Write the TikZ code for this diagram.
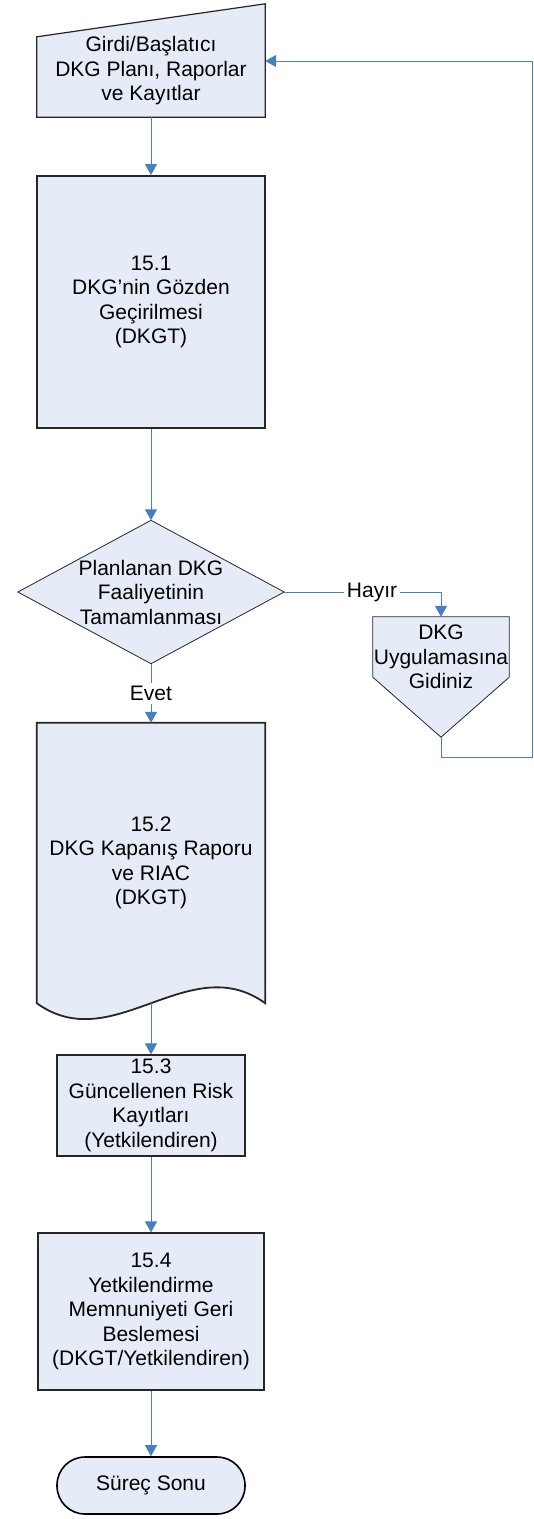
\documentclass[tikz,border=0pt]{standalone}
\usepackage{fontspec}
\setmainfont{Liberation Sans}
\usetikzlibrary{arrows.meta,backgrounds}

\definecolor{boxfill}{RGB}{230,236,247}
\definecolor{flowblue}{RGB}{74,126,193}

\tikzset{
  txt/.style={align=center, font=\fontsize{21}{24.5}\selectfont, inner sep=0pt},
  stepbox/.style={txt, draw=black!85, fill=boxfill, line width=1.2pt},
  shapeline/.style={draw=black!85, fill=boxfill, line width=1.2pt},
  flow/.style={draw=flowblue, line width=1pt, -{Triangle[width=12pt,length=11pt]}},
  lbl/.style={txt, text=black, fill=white, inner sep=3pt}
}

\begin{document}
\begin{tikzpicture}[x=1pt,y=-1pt]
  \useasboundingbox (0,0) rectangle (534,1519);
  \node[txt, minimum width=228pt, minimum height=92pt] (in) at (151,71)
    {Girdi/Başlatıcı\\DKG Planı, Raporlar\\ve Kayıtlar};
  \node[stepbox, line width=1.8pt, minimum width=228pt, minimum height=252pt] (s1) at (151,302)
    {15.1\\DKG’nin Gözden\\Geçirilmesi\\(DKGT)};
  \node[txt, minimum width=266pt, minimum height=143pt] (dec) at (151,592)
    {Planlanan DKG\\Faaliyetinin\\Tamamlanması};
  \node[txt, minimum width=136pt, minimum height=80pt] (goto) at (441,657)
    {DKG\\Uygulamasına\\Gidiniz};
  \node[txt, minimum width=228pt, minimum height=280pt] (doc) at (151,863)
    {15.2\\DKG Kapanış Raporu\\ve RIAC\\(DKGT)};
  \node[stepbox, minimum width=188pt, minimum height=101pt] (s3) at (151,1105.5)
    {15.3\\Güncellenen Risk\\Kayıtları\\(Yetkilendiren)};
  \node[stepbox, minimum width=226pt, minimum height=157pt] (s4) at (151,1311.5)
    {15.4\\Yetkilendirme\\Memnuniyeti Geri\\Beslemesi\\(DKGT/Yetkilendiren)};
  \node[stepbox, draw=black, line width=1.6pt, rounded corners=28pt,
        minimum width=188pt, minimum height=57pt] (end) at (151,1485.5) {Süreç Sonu};

  % outlines of the special shapes
  \begin{scope}[on background layer]
    \path[shapeline] (in.south west) -- ([yshift=-12pt]in.north west)
      -- ([yshift=21pt]in.north east) -- (in.south east) -- cycle;
    \path[shapeline, line width=0.8pt] (dec.north) -- (dec.east) -- (dec.south) -- (dec.west) -- cycle;
    \path[shapeline, line width=0.8pt] (goto.north west) -- (goto.north east)
      -- ([yshift=20pt]goto.south east) -- ([yshift=-40pt]goto.south)
      -- ([yshift=20pt]goto.south west) -- cycle;
    \path[shapeline, line width=1.8pt] (doc.south east)
      .. controls ([xshift=-76pt,yshift=55pt]doc.south east) and ([xshift=76pt,yshift=-55pt]doc.south west) ..
      (doc.south west) -- (doc.north west) -- (doc.north east) -- cycle;
  \end{scope}

  \coordinate (gotip) at ([yshift=-40pt]goto.south);
  \coordinate (loopbot) at (532,757);
  \coordinate (looptop) at (532,61);

  \path[every edge/.append style=flow]
  (in) edge (s1)
  (s1) edge (dec)
  (dec) edge node [lbl] {Evet} (doc)
  (doc.south) edge (s3)
  (s3) edge (s4)
  (s4) edge (end);
  \draw[flow] (dec.east) -| node [lbl, pos=0.28] {Hayır} (goto.north);
  \draw[flow] (gotip) |- (loopbot) -- (looptop) -- (in.east |- looptop);
\end{tikzpicture}
\end{document}
